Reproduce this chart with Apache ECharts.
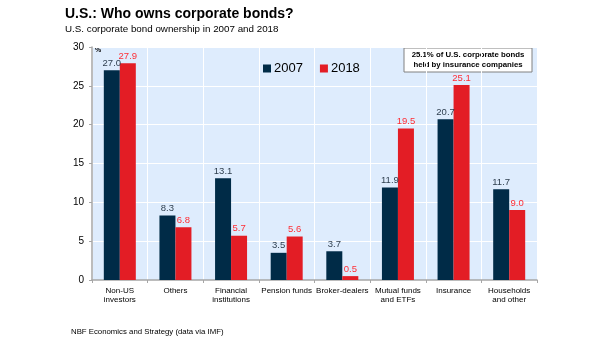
<!DOCTYPE html>
<html><head><meta charset="utf-8">
<script src="https://cdn.jsdelivr.net/npm/echarts@6/dist/echarts.min.js"></script>
<style>html,body{margin:0;padding:0;background:#fff}#c{width:605px;height:341px}</style>
</head><body><div id="c"></div>
<script>
const categories = ['Non-US\ninvestors','Others','Financial\ninstitutions','Pension funds','Broker-dealers','Mutual funds\nand ETFs','Insurance','Households\nand other'];
const values2007 = [27.0, 8.3, 13.1, 3.5, 3.7, 11.9, 20.7, 11.7];
const values2018 = [27.9, 6.8, 5.7, 5.6, 0.5, 19.5, 25.1, 9.0];
const yTicks = [0, 5, 10, 15, 20, 25, 30];

const chart = echarts.init(document.getElementById('c'), null, {renderer:'canvas'});
const F = 'Liberation Sans, Arial, sans-serif';
chart.setOption({
  animation:false,
  textStyle:{fontFamily:F},
  title:[
    {text:'U.S.: Who owns corporate bonds?', left:60, top:2, textStyle:{fontFamily:F,fontSize:14,fontWeight:'bold',color:'#000'}},
    {text:'U.S. corporate bond ownership in 2007 and 2018', left:60, top:19, textStyle:{fontFamily:F,fontSize:9.8,fontWeight:'normal',color:'#000'}},
    {text:'NBF Economics and Strategy (data via IMF)', left:66, top:323, textStyle:{fontFamily:F,fontSize:7.8,fontWeight:'normal',color:'#000'}}
  ],
  legend:{left:258, top:57, itemWidth:8, itemHeight:8, itemGap:17, icon:'rect',
    textStyle:{fontFamily:F,fontSize:13,color:'#000', padding:[0,0,0,-2]}, data:['2007','2018']},
  grid:{left:92, right:68, top:47, bottom:61, show:true, backgroundColor:'#deecfd', borderWidth:0},
  xAxis:{type:'category', data:categories,
    axisLine:{lineStyle:{color:'#a6a6a6',width:1.5}},
    axisTick:{show:true, length:3, lineStyle:{color:'#a6a6a6'}},
    splitLine:{show:true, lineStyle:{color:'#ffffff',width:1}},
    axisLabel:{fontFamily:F,fontSize:8,color:'#000',lineHeight:9,margin:6,interval:0}},
  yAxis:{type:'value', min:0, max:30, interval:5,
    axisLine:{show:true, lineStyle:{color:'#a6a6a6',width:1.5}},
    axisTick:{show:true, length:3, lineStyle:{color:'#a6a6a6'}},
    splitLine:{show:true, lineStyle:{color:'#ffffff',width:1}},
    axisLabel:{fontFamily:F,fontSize:10,color:'#000',margin:8, formatter:v=>yTicks.includes(v)?String(v):''}},
  graphic:[
    {type:'text', left:95, top:47, style:{text:'%', font:'bold 7px '+F, fill:'#000'}},
    {type:'rect', shape:{x:404, y:48, width:128, height:24}, style:{fill:'#fff', stroke:'#808080', lineWidth:1}},
    {type:'text', x:468, y:50, style:{text:'25.1% of U.S. corporate bonds\nheld by insurance companies', font:'bold 7.8px '+F, fill:'#000', align:'center', verticalAlign:'top', lineHeight:10}}
  ],
  series:[
    {name:'2007', type:'bar', data:values2007, barWidth:16, barGap:'0%',
      itemStyle:{color:'#002b47'},
      label:{show:true, position:'top', distance:2, formatter:p=>p.value.toFixed(1), fontFamily:F, fontSize:9.5, color:'#2e3e4e'}},
    {name:'2018', type:'bar', data:values2018, barWidth:16, barGap:'0%',
      itemStyle:{color:'#e31d25'},
      label:{show:true, position:'top', distance:2, formatter:p=>p.value.toFixed(1), fontFamily:F, fontSize:9.5, color:'#ff2d34'}}
  ]
});
</script></body></html>
